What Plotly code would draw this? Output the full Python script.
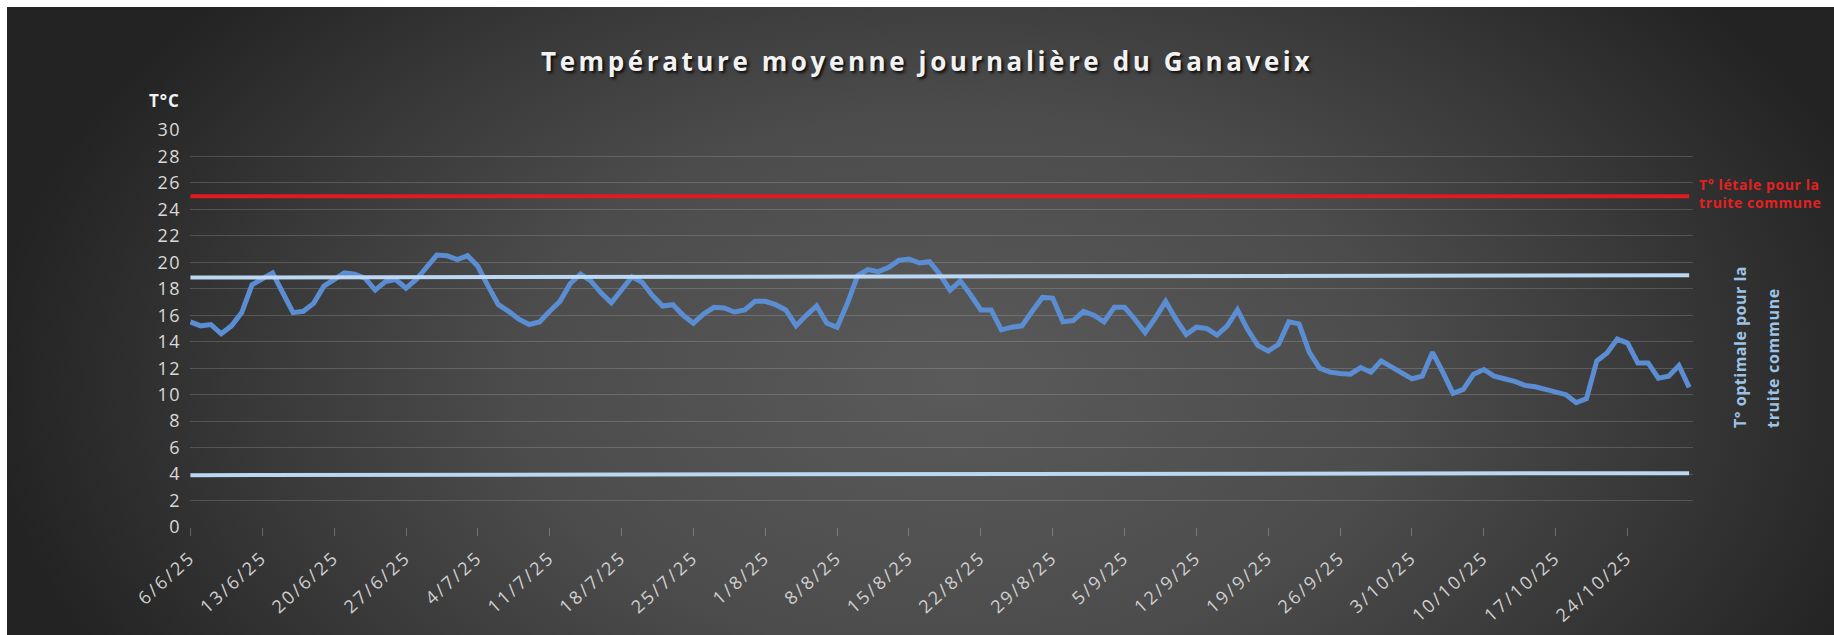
import base64
import pandas as pd
import plotly.graph_objects as go

# ---------------- data ----------------
start_date = "2025-06-06"
temps = [
    15.5, 15.2, 15.3, 14.6, 15.2, 16.2, 18.3, 18.7, 19.2, 17.7,
    16.2, 16.3, 16.9, 18.2, 18.7, 19.2, 19.1, 18.8, 17.9, 18.55,
    18.7, 18.05, 18.7, 19.7, 20.55, 20.5, 20.2, 20.5, 19.7, 18.2,
    16.8, 16.3, 15.7, 15.3, 15.5, 16.3,
    17.05, 18.4, 19.1, 18.6, 17.7, 16.95, 18.0, 18.9, 18.5, 17.5,
    16.7, 16.8, 16.0, 15.4, 16.1, 16.6, 16.55, 16.25, 16.4, 17.05,
    17.05, 16.8, 16.4, 15.2, 16.0, 16.7, 15.4, 15.1, 16.9, 19.0,
    19.45, 19.3, 19.6, 20.15, 20.25, 19.95, 20.05, 19.1, 17.9, 18.6,
    17.55, 16.4, 16.4, 14.9, 15.1, 15.2, 16.3, 17.35, 17.3, 15.5,
    15.6, 16.3, 16.0, 15.5, 16.6, 16.6, 15.7, 14.7, 15.8, 17.05,
    15.7, 14.55, 15.1, 15.0, 14.5, 15.2, 16.4, 14.9, 13.7, 13.3,
    13.8, 15.5, 15.35, 13.2, 12.0, 11.7, 11.6, 11.55, 12.05,
    11.7, 12.55, 12.1, 11.7, 11.2, 11.4, 13.2, 11.7, 10.1, 10.4,
    11.55, 11.9, 11.4, 11.2, 11.0, 10.7, 10.6, 10.4, 10.2, 10.0,
    9.4, 9.7, 12.55, 13.15, 14.2, 13.9, 12.4, 12.4, 11.25, 11.4,
    12.2, 10.55,
]
dates = pd.date_range(start_date, periods=len(temps), freq="D")
line_ends = [dates[0], dates[-1]]
lethal = [25, 25]
optimal_high = [18.85, 19.02]
optimal_low = [3.92, 4.07]
y_ticks = list(range(0, 31, 2))
y_tick_labels = [str(v) for v in y_ticks]
x_tick_labels = ["6/6/25", "13/6/25", "20/6/25", "27/6/25", "4/7/25", "11/7/25",
                 "18/7/25", "25/7/25", "1/8/25", "8/8/25", "15/8/25", "22/8/25",
                 "29/8/25", "5/9/25", "12/9/25", "19/9/25", "26/9/25", "3/10/25",
                 "10/10/25", "17/10/25", "24/10/25"]
x_tick_dates = pd.date_range(start_date, periods=len(x_tick_labels), freq="7D")

title_text = "Température moyenne journalière du Ganaveix"
y_unit = "T°C"
lethal_label = "T° létale pour la<br>truite commune"
optimal_label_1 = "T° optimale pour la"
optimal_label_2 = "truite commune"

# ---------------- layout geometry ----------------
W, H = 1834, 635
ML, MR, MT, MB = 190, 141, 130, 108
PW, PH = W - ML - MR, H - MT - MB


def px_x(p):
    return (p - ML) / PW


def px_y(p):
    return (H - MB - p) / PH


def spaced(text, px):
    return f'<span style="letter-spacing:{px}px">{text}</span>'


svg = (
    '<svg xmlns="http://www.w3.org/2000/svg" width="1827" height="628" '
    'viewBox="0 0 1827 628" preserveAspectRatio="none"><defs>'
    '<radialGradient id="g" cx="0.52" cy="0.6" r="1" '
    'gradientTransform="translate(0.52 0.6) scale(0.53 0.95) translate(-0.52 -0.6)">'
    '<stop offset="0" stop-color="#5a5a5a"/><stop offset="0.45" stop-color="#4c4c4c"/>'
    '<stop offset="0.72" stop-color="#393939"/><stop offset="1" stop-color="#232323"/>'
    '</radialGradient></defs><rect width="1827" height="628" fill="url(#g)"/></svg>'
)
bg_uri = "data:image/svg+xml;base64," + base64.b64encode(svg.encode()).decode()

fig = go.Figure()
fig.add_trace(go.Scatter(x=line_ends, y=lethal, mode="lines",
                         line=dict(color="#e31a1e", width=4), hoverinfo="skip"))
fig.add_trace(go.Scatter(x=dates, y=temps, mode="lines",
                         line=dict(color="#5b8dd3", width=5)))
fig.add_trace(go.Scatter(x=line_ends, y=optimal_high, mode="lines",
                         line=dict(color="#bcd7f1", width=4), hoverinfo="skip"))
fig.add_trace(go.Scatter(x=line_ends, y=optimal_low, mode="lines",
                         line=dict(color="#bcd7f1", width=4), hoverinfo="skip"))

x_start = dates[0] - pd.Timedelta(hours=1)
x_end = dates[-1] + pd.Timedelta(hours=9)

fig.update_layout(
    width=W, height=H,
    margin=dict(l=ML, r=MR, t=MT, b=MB, autoexpand=False),
    paper_bgcolor="white",
    plot_bgcolor="rgba(0,0,0,0)",
    showlegend=False,
    font=dict(family="Open Sans", color="#d9d9d9"),
    title=dict(text=spaced(title_text, 3.6), xref="container", yref="container",
               x=927 / W, y=1 - 62 / H, xanchor="center", yanchor="middle",
               font=dict(family="Open Sans", size=26, weight="bold", color="#f2f2f2",
                         shadow="2px 2px 3px rgba(0,0,0,0.85)")),
    xaxis=dict(type="date", range=[x_start, x_end], automargin=False,
               tickvals=x_tick_dates,
               ticktext=[spaced(t, 2.5) for t in x_tick_labels],
               tickangle=-42, ticks="outside", ticklen=8, tickwidth=1,
               tickcolor="rgba(255,255,255,0.25)", showgrid=False,
               showline=False, zeroline=False, ticklabelstandoff=4,
               tickfont=dict(size=18, color="#d0d0d0")),
    yaxis=dict(range=[0, 30], tickvals=y_ticks, automargin=False,
               ticktext=[spaced(t, 1.5) for t in y_tick_labels],
               showgrid=True, gridcolor="rgba(255,255,255,0.16)", gridwidth=1,
               zeroline=False, showline=False, ticks="",
               ticklabelstandoff=8,
               tickfont=dict(size=18, color="#d9d9d9")),
    images=[dict(source=bg_uri, xref="paper", yref="paper",
                 x=px_x(7), y=px_y(7), sizex=(W - 7) / PW, sizey=(H - 7) / PH,
                 xanchor="left", yanchor="top", sizing="stretch", layer="below")],
    annotations=[
        dict(text=spaced(y_unit, 1), xref="paper", yref="paper", x=px_x(164), y=px_y(101),
             showarrow=False, xanchor="center", yanchor="middle",
             font=dict(size=17, weight="bold", color="#f2f2f2")),
        dict(text=spaced(lethal_label, 0.6), xref="paper", yref="paper",
             x=px_x(1697), y=px_y(193),
             showarrow=False, xanchor="left", yanchor="middle", align="left",
             font=dict(size=14, weight="bold", color="#e42121")),
        dict(text=spaced(optimal_label_1, 0.5), xref="paper", yref="paper",
             x=px_x(1740), y=px_y(430),
             showarrow=False, xanchor="center", yanchor="bottom", textangle=-90,
             font=dict(size=16, weight="bold", color="#9dc3e6")),
        dict(text=spaced(optimal_label_2, 0.7), xref="paper", yref="paper",
             x=px_x(1773), y=px_y(430),
             showarrow=False, xanchor="center", yanchor="bottom", textangle=-90,
             font=dict(size=16, weight="bold", color="#9dc3e6")),
    ],
)

fig.write_html(
    "out.html",
    config={"displayModeBar": False},
    post_script="document.body.style.margin='0';document.body.style.overflow='hidden';",
)
